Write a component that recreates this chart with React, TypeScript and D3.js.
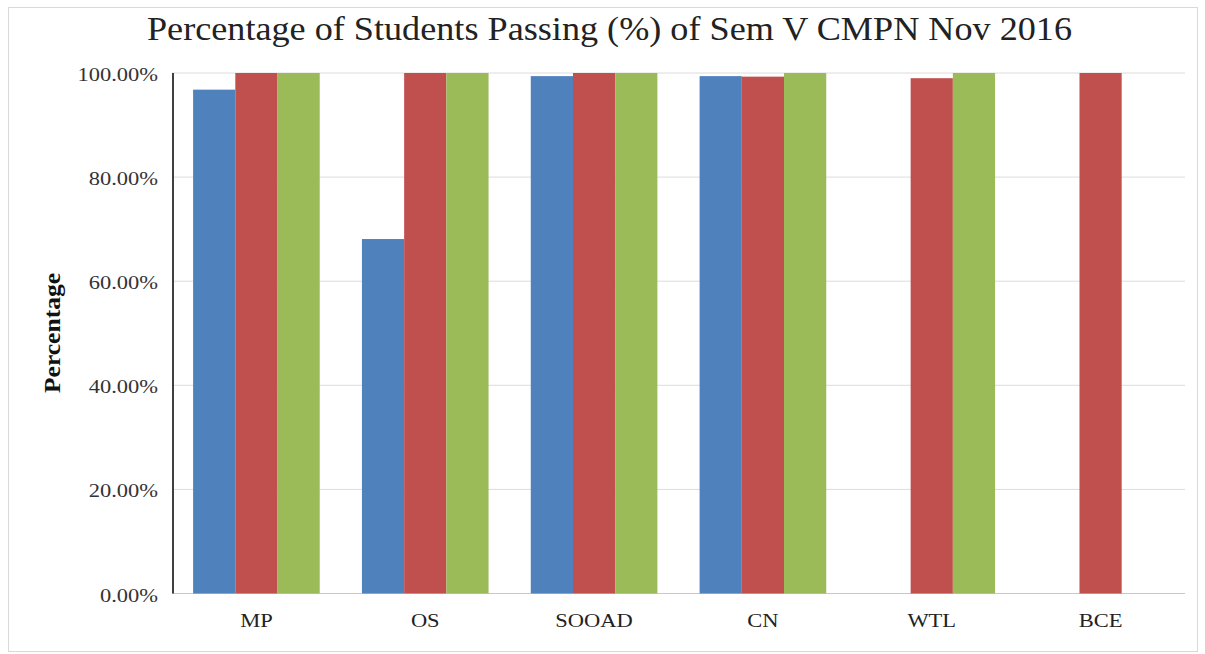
import React from "react";
import * as d3 from "d3";

const title = "Percentage of Students Passing (%) of Sem V CMPN Nov 2016";
const yAxisTitle = "Percentage";
const categories = ["MP", "OS", "SOOAD", "CN", "WTL", "BCE"];
const seriesNames = ["Series 1", "Series 2", "Series 3"];
const seriesBlue: (number | null)[] = [96.8, 68.1, 99.4, 99.4, null, null];
const seriesRed: (number | null)[] = [100, 100, 100, 99.3, 99.0, 100];
const seriesGreen: (number | null)[] = [100, 100, 100, 100, 100, null];
const yTicks = [0, 20, 40, 60, 80, 100];
const colors = ["#4F81BD", "#C0504D", "#9BBB59"];

const W = 1205;
const H = 654;
const plot = { left: 172, right: 1185, top: 73, bottom: 593.5 };
const FONT = "'Liberation Serif', 'Times New Roman', serif";
const SX = 1.25;

export default function App() {
  const seriesValues = [seriesBlue, seriesRed, seriesGreen];
  const x0 = d3.scaleBand<string>().domain(categories).range([plot.left, plot.right]).paddingInner(0).paddingOuter(0);
  const bw = x0.bandwidth();
  const x1 = d3.scaleBand<string>().domain(seriesNames).range([bw * 0.125, bw * 0.875]).padding(0);
  const y = d3.scaleLinear().domain([0, 100]).range([plot.bottom, plot.top]);
  const fmt = (v: number) => d3.format(".2f")(v) + "%";

  return (
    <svg width={W} height={H} style={{ position: "absolute", left: 0, top: 0, background: "#fff" }}>
      <rect x={8.5} y={7.5} width={1189} height={644} fill="#fff" stroke="#d9d9d9" strokeWidth={1} />
      <text
        x={609.5}
        y={40}
        textAnchor="middle"
        fontFamily={FONT}
        fontSize={33}
        fill="#222"
        textLength={925}
        lengthAdjust="spacingAndGlyphs"
      >
        {title}
      </text>
      {yTicks.map((t) => (
        <line key={"g" + t} x1={plot.left} x2={plot.right} y1={y(t)} y2={y(t)} stroke={t === 0 ? "#c8c8c8" : "#dcdcdc"} strokeWidth={1} />
      ))}
      {yTicks.map((t) => (
        <g key={"t" + t} transform={`translate(158,${y(t) + 8}) scale(${SX},1)`}>
          <text textAnchor="end" fontFamily={FONT} fontSize={18} fill="#333">
            {fmt(t)}
          </text>
        </g>
      ))}
      {categories.map((c, i) => (
        <g key={c}>
          {seriesValues.map((s, j) => {
            const v = s[i];
            if (v == null) return null;
            const bx = (x0(c) as number) + (x1(seriesNames[j]) as number);
            return <rect key={j} x={bx} y={y(v)} width={x1.bandwidth()} height={y(0) - y(v)} fill={colors[j]} />;
          })}
          <g transform={`translate(${(x0(c) as number) + bw / 2},627) scale(${SX},1)`}>
            <text textAnchor="middle" fontFamily={FONT} fontSize={18} fill="#222">
              {c}
            </text>
          </g>
        </g>
      ))}
      <line x1={173} x2={173} y1={plot.top} y2={plot.bottom} stroke="#404040" strokeWidth={2} />
      <text
        transform={`translate(60,333) rotate(-90)`}
        textAnchor="middle"
        fontFamily={FONT}
        fontWeight="bold"
        fontSize={23}
        fill="#111"
        textLength={120}
        lengthAdjust="spacingAndGlyphs"
      >
        {yAxisTitle}
      </text>
    </svg>
  );
}
